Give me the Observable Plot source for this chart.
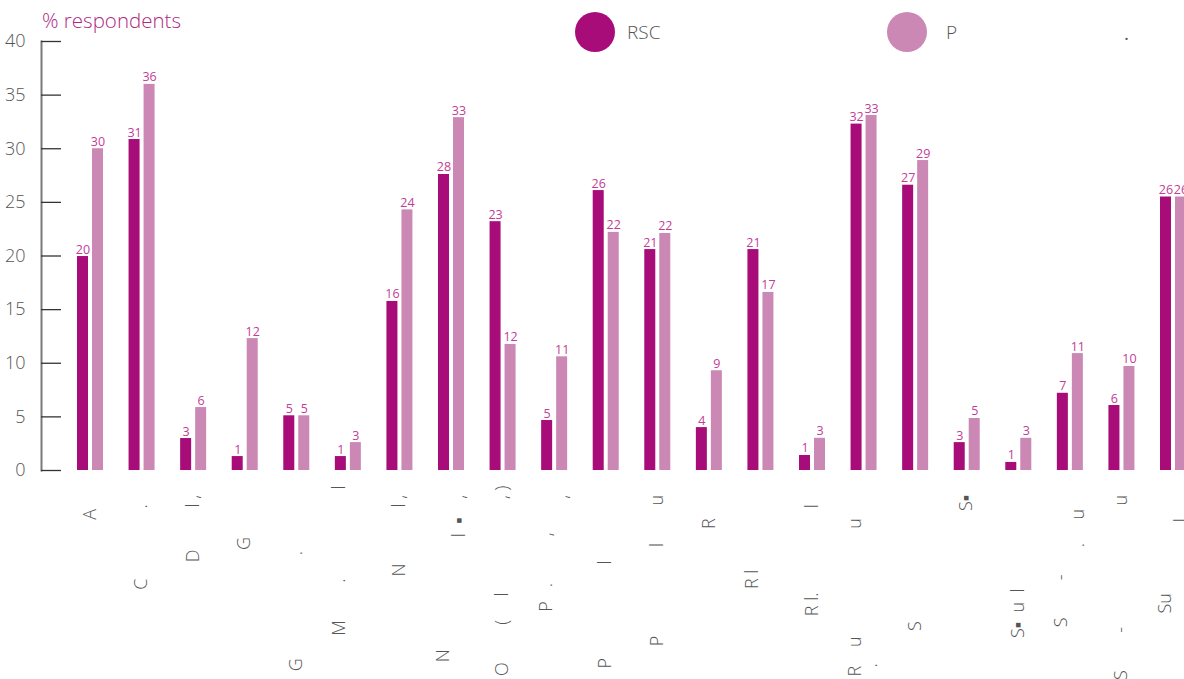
<!DOCTYPE html>
<html>
<head>
<meta charset="utf-8">
<script src="https://cdn.jsdelivr.net/npm/d3@7"></script>
<script src="https://cdn.jsdelivr.net/npm/@observablehq/plot@0.6"></script>
<style>
  html, body { margin: 0; padding: 0; background: #fff; overflow: hidden; }
  #wrap { position: relative; width: 1184px; height: 679px; overflow: hidden; font-family: "Open Sans", sans-serif; }
  #chart { position: absolute; left: 0; top: 0; }
  #chart svg { max-width: none !important; }
  #title { position: absolute; left: 42px; top: 6px; font-size: 20.5px; color: #b0287f; font-weight: 300; white-space: nowrap; }
  .dot { position: absolute; top: 12px; width: 40px; height: 40px; border-radius: 50%; }
  .legtext { position: absolute; top: 18px; font-size: 19px; line-height: 28px; color: #555; font-weight: 300; }
  #stray { position: absolute; left: 1124px; top: 20px; font-size: 19px; color: #555; }
</style>
</head>
<body>
<div id="wrap">
  <div id="chart"></div>
  <div id="title">% respondents</div>
  <div id="legend"></div>
  <div id="stray">.</div>
</div>
<script>
const S = n => "\u00A0".repeat(n);

// Category tick labels (as rendered in the reference: most glyphs are missing)
const categories = [
  "A" + S(5),
  "C" + S(15) + "." + S(4),
  "D" + S(9) + "l" + S(1) + "," + S(2),
  "G" + S(11),
  "G" + S(22) + "." + S(14),
  "M" + S(8) + "." + S(19) + "l\n" + S(1),
  "N" + S(12) + "l" + S(1) + "," + S(2),
  "N" + S(35) + "\nl" + S(2) + "\u25AA" + S(4) + "," + S(2),
  "O" + S(8) + "(" + S(5) + "l" + S(20) + "," + S(1) + ")",
  "P" + S(3) + "." + S(10) + "," + S(10) + "\n," + S(2),
  "P" + S(20) + "l" + S(16),
  "P" + S(19) + "l" + S(8) + "u" + S(2),
  "R" + S(7),
  "R" + S(1) + "l" + S(18) + "\n" + S(2),
  "R" + S(1) + "l." + S(18) + "l" + S(4),
  "R" + S(4) + "u" + S(23) + "u" + S(7) + "\n." + S(38),
  "S" + S(29),
  "S\u25AA" + S(2),
  "S\u25AA" + S(2) + "u" + S(2) + "l" + S(22),
  "S" + S(8) + "-" + S(19) + "\n." + S(5) + "u" + S(5),
  "S" + S(8) + "-" + S(26) + "u" + S(2),
  "Su" + S(23) + "\nl" + S(7)
];

const series = ["RSC", "P"];
const seriesColors = ["#a80c79", "#cc88b5"];

const rscValues = [19.95, 30.86, 2.98, 1.3, 5.1, 1.3, 15.76, 27.6, 23.2, 4.66, 26.1, 20.6, 4.0, 20.6, 1.4, 32.3, 26.6, 2.6, 0.75, 7.2, 6.06, 25.5];
const pValues   = [30.0, 36.0, 5.87, 12.3, 5.1, 2.6, 24.3, 32.9, 11.75, 10.6, 22.2, 22.1, 9.3, 16.6, 3.0, 33.1, 28.9, 4.85, 3.0, 10.9, 9.7, 25.5];

const yTicks = [0, 5, 10, 15, 20, 25, 30, 35, 40];

const rows = categories.map((c, i) => ({cat: c, rsc: rscValues[i], p: pValues[i]}));
const fmt = d3.format(".0f");
const labelColor = "#c23d97";
const font = '"Open Sans", sans-serif';

const W = 1222, H = 700;
const chart = Plot.plot({
  width: W,
  height: H,
  marginLeft: 41,
  marginRight: 0,
  marginTop: 41,
  marginBottom: H - 470,
  style: {fontFamily: font, background: "transparent", maxWidth: "none", overflow: "visible"},
  x: {domain: categories, paddingInner: 0.49584, paddingOuter: 0.69806, round: false, label: null},
  y: {domain: [0, 40], label: null},
  marks: [
    Plot.frame({anchor: "left", stroke: "#7a7a7a", strokeWidth: 2}),
    Plot.axisY({ticks: yTicks, tickSize: -20, tickPadding: 36, stroke: "#333", strokeWidth: 1.3, fill: "#555",
                fontSize: 18, fontWeight: 300, label: null}),
    Plot.axisX({tickSize: 0, tickRotate: -90, tickPadding: 15, fill: "#555", fontSize: 18, fontWeight: 300,
                lineHeight: 0.9, label: null}),
    Plot.barY(rows, {x: "cat", y: "rsc", fill: seriesColors[0], insetRight: 15}),
    Plot.barY(rows, {x: "cat", y: "p", fill: seriesColors[1], insetLeft: 15}),
    Plot.text(rows, {x: "cat", y: "rsc", text: d => fmt(d.rsc), dx: -7.5, dy: -3, lineAnchor: "bottom",
                     fill: labelColor, fontSize: 12.5}),
    Plot.text(rows, {x: "cat", y: "p", text: d => fmt(d.p), dx: 7.5, dy: -3, lineAnchor: "bottom",
                     fill: labelColor, fontSize: 12.5})
  ]
});
document.getElementById("chart").appendChild(chart);

// Legend
const legend = document.getElementById("legend");
const dotLeft = [575, 887];
const textLeft = [627, 946];
series.forEach((s, i) => {
  const dot = document.createElement("div");
  dot.className = "dot";
  dot.style.left = dotLeft[i] + "px";
  dot.style.background = seriesColors[i];
  const label = document.createElement("div");
  label.className = "legtext";
  label.style.left = textLeft[i] + "px";
  label.textContent = s;
  legend.appendChild(dot);
  legend.appendChild(label);
});
</script>
</body>
</html>
